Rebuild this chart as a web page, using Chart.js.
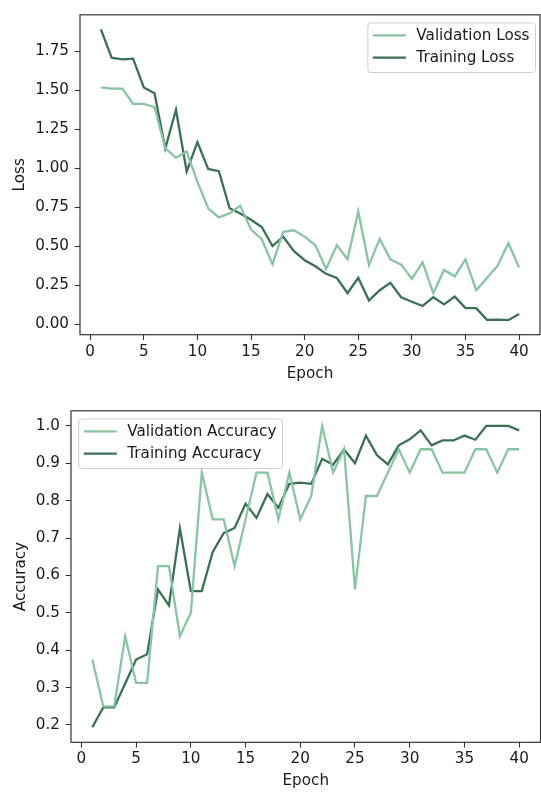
<!DOCTYPE html>
<html>
<head>
<meta charset="utf-8">
<script src="https://cdn.jsdelivr.net/npm/chart.js@4.4.0/dist/chart.umd.min.js"></script>
<style>
  html, body { margin: 0; padding: 0; background: #fff; }
  canvas { position: absolute; left: 0; }
</style>
</head>
<body>
<canvas id="lossChart" width="541" height="396" style="top:0"></canvas>
<canvas id="accChart" width="541" height="396" style="top:396px"></canvas>
<script>
// data
const epochs = Array.from({ length: 40 }, (_, i) => i + 1);

const valLoss = [1.517, 1.509, 1.509, 1.412, 1.412, 1.391, 1.128, 1.066, 1.106, 0.911,
  0.742, 0.684, 0.709, 0.759, 0.606, 0.544, 0.384, 0.591, 0.601, 0.560,
  0.505, 0.353, 0.505, 0.415, 0.722, 0.378, 0.546, 0.415, 0.381, 0.291,
  0.395, 0.198, 0.347, 0.306, 0.415, 0.217, 0.296, 0.374, 0.519, 0.362];
const trainLoss = [1.889, 1.707, 1.697, 1.701, 1.517, 1.480, 1.125, 1.374, 0.978, 1.166,
  0.994, 0.980, 0.742, 0.709, 0.668, 0.622, 0.500, 0.560, 0.467, 0.409,
  0.370, 0.322, 0.296, 0.198, 0.296, 0.151, 0.217, 0.265, 0.172, 0.143,
  0.116, 0.172, 0.126, 0.176, 0.102, 0.102, 0.027, 0.029, 0.025, 0.064];

const valAcc = [0.375, 0.25, 0.25, 0.4375, 0.3125, 0.3125, 0.625, 0.625, 0.4375, 0.5,
  0.875, 0.75, 0.75, 0.625, 0.75, 0.875, 0.875, 0.75, 0.875, 0.75,
  0.8125, 1.0, 0.875, 0.9375, 0.5625, 0.8125, 0.8125, 0.875, 0.9375, 0.875,
  0.9375, 0.9375, 0.875, 0.875, 0.875, 0.9375, 0.9375, 0.875, 0.9375, 0.9375];
const trainAcc = [0.194, 0.247, 0.247, 0.311, 0.375, 0.389, 0.5625, 0.520, 0.726, 0.558,
  0.558, 0.663, 0.713, 0.727, 0.792, 0.754, 0.818, 0.781, 0.845, 0.848,
  0.845, 0.912, 0.896, 0.937, 0.900, 0.974, 0.922, 0.897, 0.948, 0.964,
  0.988, 0.948, 0.961, 0.961, 0.974, 0.963, 1.0, 1.0, 1.0, 0.988];

const epochTicks = [0, 5, 10, 15, 20, 25, 30, 35, 40];
const lossTicks = [0, 0.25, 0.5, 0.75, 1.0, 1.25, 1.5, 1.75];
const lossTickLabels = ['0.00', '0.25', '0.50', '0.75', '1.00', '1.25', '1.50', '1.75'];
const accTicks = [0.2, 0.3, 0.4, 0.5, 0.6, 0.7, 0.8, 0.9, 1.0];
const accTickLabels = ['0.2', '0.3', '0.4', '0.5', '0.6', '0.7', '0.8', '0.9', '1.0'];

const LIGHT = 'rgb(137,196,163)';
const DARK = 'rgb(59,112,84)';
const FONT = { family: '"DejaVu Sans", sans-serif', size: 15.2 };
const INK = '#1a1a1a';

// matplotlib-like 5% margins around the data
function padRange(arrs) {
  const all = [].concat(...arrs);
  const lo = Math.min(...all), hi = Math.max(...all);
  const m = (hi - lo) * 0.05;
  return [lo - m, hi + m];
}

// full box round the plot area
const frame = {
  id: 'frame',
  afterDraw(chart) {
    const { ctx, chartArea: a } = chart;
    ctx.save();
    ctx.strokeStyle = '#333';
    ctx.lineWidth = 1.2;
    ctx.strokeRect(a.left, a.top, a.right - a.left, a.bottom - a.top);
    ctx.restore();
  }
};

// legend box drawn inside the plot area
const boxLegend = {
  id: 'boxLegend',
  afterDraw(chart, args, opts) {
    const { ctx, chartArea: a } = chart;
    const sets = chart.data.datasets;
    ctx.save();
    ctx.font = FONT.size + 'px ' + FONT.family;
    const tw = Math.max(...sets.map(d => ctx.measureText(d.label).width));
    const w = 5.5 + 33 + 10.5 + tw + 5.5;
    const h = 49.5;
    const x = opts.side === 'right' ? a.right - 5 - w : a.left + 7.3;
    const y = a.top + 7.7;
    ctx.fillStyle = 'rgba(255,255,255,0.85)';
    ctx.strokeStyle = '#d0d0d0';
    ctx.lineWidth = 1;
    ctx.beginPath();
    ctx.roundRect(x + 0.5, y + 0.5, w, h, 3);
    ctx.fill();
    ctx.stroke();
    sets.forEach((d, i) => {
      const cy = y + 12.8 + i * 22.3;
      ctx.strokeStyle = d.borderColor;
      ctx.lineWidth = 2.3;
      ctx.beginPath();
      ctx.moveTo(x + 5.5, cy);
      ctx.lineTo(x + 38.5, cy);
      ctx.stroke();
      ctx.fillStyle = INK;
      ctx.textBaseline = 'middle';
      ctx.fillText(d.label, x + 49, cy + 0.5);
    });
    ctx.restore();
  }
};

function series(label, values, color) {
  return {
    label,
    data: epochs.map((e, i) => ({ x: e, y: values[i] })),
    borderColor: color,
    borderWidth: 2.3,
    pointRadius: 0,
    tension: 0,
    fill: false
  };
}

function makeChart(id, cfg) {
  const [ymin, ymax] = padRange(cfg.values);
  return new Chart(document.getElementById(id), {
    type: 'line',
    data: { datasets: cfg.datasets },
    options: {
      responsive: false,
      animation: false,
      layout: { padding: cfg.padding },
      plugins: {
        legend: { display: false },
        tooltip: { enabled: false },
        boxLegend: { side: cfg.legendSide }
      },
      scales: {
        x: {
          type: 'linear',
          min: 1 - 39 * 0.05,
          max: 40 + 39 * 0.05,
          afterBuildTicks: s => { s.ticks = epochTicks.map(v => ({ value: v })); },
          afterFit: s => { s.height = cfg.xHeight; },
          grid: { drawOnChartArea: false, drawTicks: true, tickLength: 5.3, tickColor: '#333', tickWidth: 1.1 },
          border: { display: false },
          ticks: { font: FONT, color: INK, padding: 2.7, maxRotation: 0, callback: v => String(v) },
          title: { display: true, text: 'Epoch', font: FONT, color: INK, padding: { top: 0, bottom: cfg.xTitlePad } }
        },
        y: {
          min: ymin,
          max: ymax,
          afterBuildTicks: s => { s.ticks = cfg.yTicks.map(v => ({ value: v })); },
          afterFit: s => { s.width = cfg.yWidth; },
          grid: { drawOnChartArea: false, drawTicks: true, tickLength: 5.3, tickColor: '#333', tickWidth: 1.1 },
          border: { display: false },
          ticks: {
            font: FONT, color: INK, padding: 5.7,
            callback: v => cfg.yLabels[cfg.yTicks.findIndex(t => Math.abs(t - v) < 1e-9)]
          },
          title: { display: true, text: cfg.yTitle, font: FONT, color: INK, padding: { top: cfg.yTitlePad, bottom: 0 } }
        }
      }
    },
    plugins: [frame, boxLegend]
  });
}

makeChart('lossChart', {
  datasets: [series('Validation Loss', valLoss, LIGHT), series('Training Loss', trainLoss, DARK)],
  values: [valLoss, trainLoss],
  yTicks: lossTicks,
  yLabels: lossTickLabels,
  yTitle: 'Loss',
  legendSide: 'right',
  padding: { top: 4, right: 1, left: 0, bottom: 0 },
  xHeight: 61.3,
  yWidth: 80,
  xTitlePad: 12.9,
  yTitlePad: 10.9
});

makeChart('accChart', {
  datasets: [series('Validation Accuracy', valAcc, LIGHT), series('Training Accuracy', trainAcc, DARK)],
  values: [valAcc, trainAcc],
  yTicks: accTicks,
  yLabels: accTickLabels,
  yTitle: 'Accuracy',
  legendSide: 'left',
  padding: { top: 9.7, right: 0.5, left: 0, bottom: 0 },
  xHeight: 49.7,
  yWidth: 71,
  xTitlePad: 1.9,
  yTitlePad: 11.9
});
</script>
</body>
</html>
